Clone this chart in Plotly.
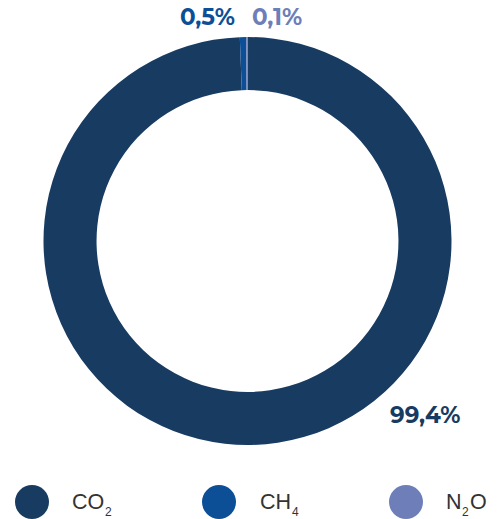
import plotly.graph_objects as go

# Emission shares by gas (%)
gases = ["CO2", "CH4", "N2O"]
shares = [99.4, 0.5, 0.1]
colors = ["#183b62", "#0c4f97", "#6d7eb8"]

# Legend formulas split into (text, is_subscript) pieces
formula_parts = [
    [("CO", False), ("2", True)],
    [("CH", False), ("4", True)],
    [("N", False), ("2", True), ("O", False)],
]

W, H = 498, 519

fig = go.Figure()
fig.add_trace(go.Pie(
    labels=gases,
    values=shares,
    hole=0.74,
    sort=False,
    direction="clockwise",
    rotation=0,
    textinfo="none",
    marker=dict(colors=colors, line=dict(width=0)),
    domain=dict(x=[0, 495 / W], y=[1 - 445 / H, 1 - 37 / H]),
    showlegend=False,
))


def fmt(v):
    return f"{v:.1f}".replace(".", ",") + "%"


def px(x, y):
    return x / W, 1 - y / H


# Value labels: (x, y in pixels from top-left, anchor)
label_pos = [(462, 415, "right"), (178, 17, "left"), (250, 17, "left")]
for v, c, (x, y, anc) in zip(shares, colors, label_pos):
    ax, ay = px(x, y)
    fig.add_annotation(
        x=ax, y=ay, xref="paper", yref="paper",
        text=f"<b>{fmt(v)}</b>", showarrow=False,
        xanchor=anc, yanchor="middle",
        font=dict(family="Montserrat, 'Open Sans', sans-serif", size=23, color=c),
    )

# Legend: circle swatches with chemical formulas
legend_x = [32, 219, 406]
# horizontal offset of each formula piece from the swatch centre
piece_offsets = [[39, 72], [40, 72], [39, 55, 63]]
for lx, parts, offs, c in zip(legend_x, formula_parts, piece_offsets, colors):
    x0, y0 = px(lx - 17, 485)
    x1, y1 = px(lx + 17, 519)
    fig.add_shape(type="circle", xref="paper", yref="paper",
                  x0=x0, x1=x1, y0=y1, y1=y0,
                  fillcolor=c, line=dict(width=0))
    for (txt, is_sub), off in zip(parts, offs):
        tx, ty = px(lx + off, 512 if is_sub else 502)
        fig.add_annotation(
            x=tx, y=ty, xref="paper", yref="paper",
            text=txt, showarrow=False, xanchor="left", yanchor="middle",
            borderpad=0,
            font=dict(family="Liberation Sans, Arial, sans-serif",
                      size=12 if is_sub else 21.5, color="#333333"),
        )

fig.update_layout(
    width=W, height=H,
    margin=dict(l=0, r=0, t=0, b=0),
    paper_bgcolor="white",
    plot_bgcolor="white",
)

fig.write_html("out.html")
